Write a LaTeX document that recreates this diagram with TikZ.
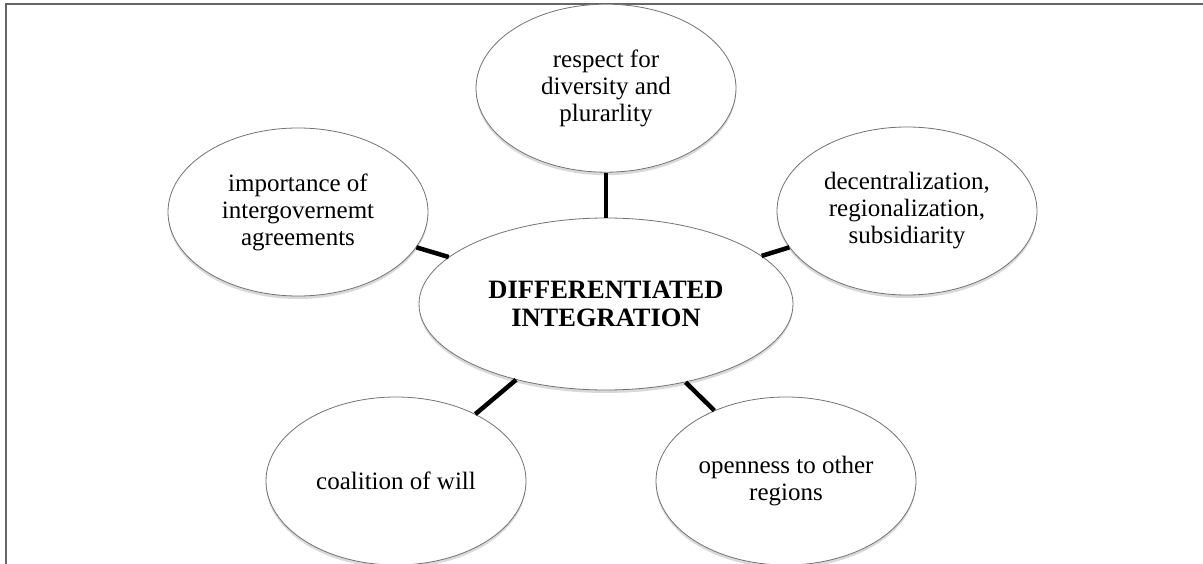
\documentclass[tikz,border=0pt]{standalone}
\usepackage{fontspec}
\setmainfont{Liberation Serif}
\usepackage{tikz}
\usetikzlibrary{positioning,shapes.geometric,shadows}
\tikzset{
  idea/.style={draw=black!55, line width=0.8pt, ellipse, fill=white, inner sep=0pt,
    minimum width=260pt, minimum height=168pt, align=center,
    font=\fontsize{25}{27}\selectfont,
    drop shadow={fill=black, opacity=0.15, shadow xshift=0pt, shadow yshift=-3pt}},
  hub/.style={idea, minimum width=374pt, minimum height=172pt,
    font=\fontsize{26.5}{28}\selectfont\bfseries},
  link/.style={line width=4.5pt, black},
  frame/.style={draw=black!60, line width=1.5pt}
}

\begin{document}
\begin{tikzpicture}[x=1pt, y=-1pt]
\useasboundingbox (0,0) rectangle (1203,564);
\draw[frame] (1203,4) -- (6,4) -- (6,564);

\node[hub] (di) at (606,304) {DIFFERENTIATED\\INTEGRATION};
\node[idea, above=45pt of di] (resp) {respect for\\diversity and\\plurarlity};
\node[idea] (imp) at (298,212) {importance of\\intergovernemt\\agreements};
\node[idea] (dec) at (907,211) {decentralization,\\regionalization,\\subsidiarity};
\node[idea] (coal) at (396,481) {coalition of will};
\node[idea] (open) at (786,481) {openness to other\\regions};

\draw[link] (di) -- (resp);
\draw[link] (di) -- (imp);
\draw[link] (di) -- (dec);
\draw[link] (di) -- (coal);
\draw[link] (di) -- (open);
\end{tikzpicture}
\end{document}
